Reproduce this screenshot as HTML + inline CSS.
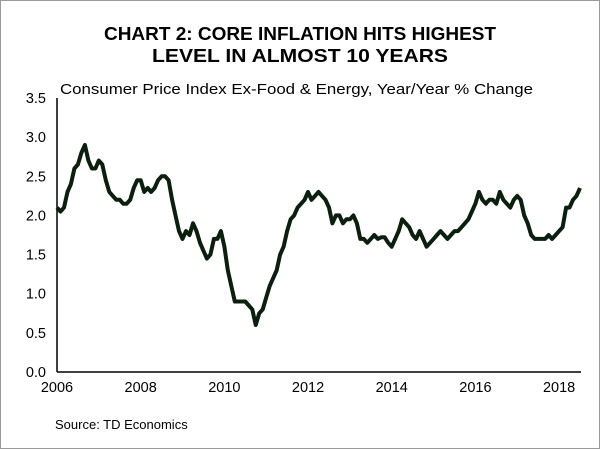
<!DOCTYPE html>
<html><head><meta charset="utf-8"><style>
html,body{margin:0;padding:0;background:#fff}
svg{display:block;font-family:"Liberation Sans",sans-serif}
</style></head><body>
<svg width="600" height="449" viewBox="0 0 600 449">
<rect x="0.5" y="0.5" width="599" height="448" fill="#fff" stroke="#9a9a9a"/>
<text x="300" y="40" text-anchor="middle" font-weight="bold" font-size="18.5" textLength="392" lengthAdjust="spacingAndGlyphs" fill="#000">CHART 2: CORE INFLATION HITS HIGHEST</text>
<text x="300" y="62" text-anchor="middle" font-weight="bold" font-size="18.5" textLength="296" lengthAdjust="spacingAndGlyphs" fill="#000">LEVEL IN ALMOST 10 YEARS</text>
<text x="60" y="94" font-size="15" textLength="473" lengthAdjust="spacingAndGlyphs" fill="#000">Consumer Price Index Ex-Food &amp; Energy, Year/Year % Change</text>
<text x="55" y="429" font-size="13" fill="#000">Source: TD Economics</text>
<g id="axes"></g>
<path id="line" fill="none" stroke="#0c1f0f" stroke-width="4" stroke-linejoin="round"/>
</svg>
<script>
const yTicks=[0.0,0.5,1.0,1.5,2.0,2.5,3.0,3.5];
const yTickLabels=["0.0","0.5","1.0","1.5","2.0","2.5","3.0","3.5"];
const xTickYears=[2006,2008,2010,2012,2014,2016,2018];
const startYear=2006;
const coreCpi=[2.1,2.05,2.1,2.3,2.4,2.6,2.65,2.8,2.9,2.7,2.6,2.6,
2.7,2.65,2.45,2.3,2.25,2.2,2.2,2.15,2.15,2.2,2.35,2.45,
2.45,2.3,2.35,2.3,2.35,2.45,2.5,2.5,2.45,2.2,2.0,1.8,
1.7,1.8,1.75,1.9,1.8,1.65,1.55,1.45,1.5,1.7,1.7,1.8,
1.6,1.3,1.1,0.9,0.9,0.9,0.9,0.85,0.8,0.6,0.75,0.8,
0.95,1.1,1.2,1.3,1.5,1.6,1.8,1.95,2.0,2.1,2.15,2.2,
2.3,2.2,2.25,2.3,2.25,2.2,2.1,1.9,2.0,2.0,1.9,1.95,
1.95,2.0,1.9,1.7,1.7,1.65,1.7,1.75,1.7,1.72,1.72,1.65,
1.6,1.7,1.8,1.95,1.9,1.85,1.75,1.7,1.8,1.7,1.6,1.65,
1.7,1.75,1.8,1.75,1.7,1.75,1.8,1.8,1.85,1.9,1.95,2.05,
2.15,2.3,2.2,2.15,2.2,2.2,2.15,2.3,2.2,2.15,2.1,2.2,
2.25,2.2,2.0,1.9,1.75,1.7,1.7,1.7,1.7,1.75,1.7,1.75,
1.8,1.85,2.1,2.1,2.2,2.25,2.35];
const X0=57,X1=581,Y0=372,Y1=98;
const n=coreCpi.length;
const xS=i=>X0+(X1-1-X0)*i/(n-1);
const xYear=y=>X0+(y-startYear)*12*(X1-1-X0)/(n-1);
const yS=v=>Y0-(v-0)/(3.5-0)*(Y0-Y1);
const NS="http://www.w3.org/2000/svg";
const g=document.getElementById('axes');
function mk(t,a){const e=document.createElementNS(NS,t);for(const k in a)e.setAttribute(k,a[k]);g.appendChild(e);return e;}
const ya=mk('line',{x1:X0,x2:X0,y1:Y1,y2:Y0,stroke:'#000','stroke-width':1.5});


const xa=mk('line',{x1:X0,x2:X1,y1:Y0,y2:Y0,stroke:'#000','stroke-width':1.5});


yTicks.forEach((v,i)=>{
 const t=mk('text',{x:46,y:yS(v)+5,'text-anchor':'end','font-size':14.5,fill:'#000'});
 t.textContent=yTickLabels[i];
 
 
});
xTickYears.forEach(yr=>{
 const t=mk('text',{x:xYear(yr),y:Y0+20,'text-anchor':'middle','font-size':14.5,fill:'#000'});
 t.textContent=String(yr);
 
 
});
document.getElementById('line').setAttribute('d',coreCpi.map((v,i)=>(i?'L':'M')+xS(i).toFixed(1)+','+yS(v).toFixed(1)).join(''));
</script>
</body></html>
